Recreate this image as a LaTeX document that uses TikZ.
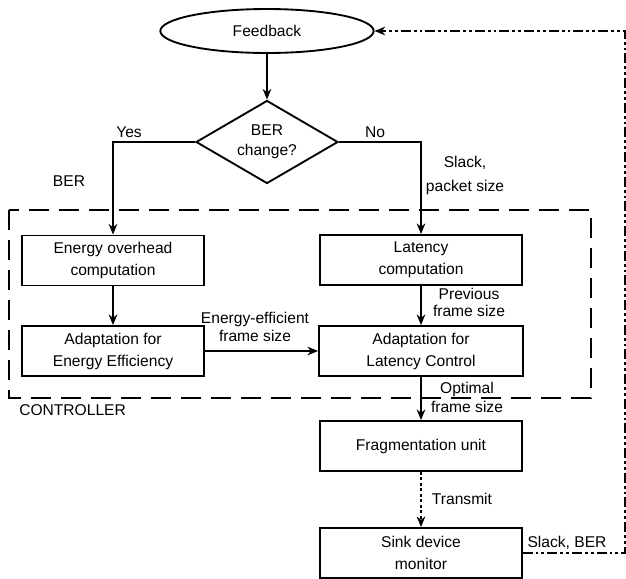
\documentclass[tikz,border=0pt]{standalone}
\usepackage{fontspec}
\setmainfont{Liberation Sans}
\usetikzlibrary{shapes.geometric,arrows.meta}

\begin{document}
\begin{tikzpicture}[x=0.75pt,y=-0.75pt,
	font=\fontsize{11.7}{16.5}\selectfont,
	box/.style={draw,line width=1.4pt,align=center,minimum height=37.5pt,inner sep=2pt},
	line/.style={line width=1.1pt},
	arr/.style={line,-{Stealth[length=8pt,width=6.5pt]}},
	lbl/.style={align=center,inner sep=0pt}]
	\useasboundingbox (0,0) rectangle (626,579);
	% controller frame
	\draw[line,dash pattern=on 15pt off 7.5pt] (9,210) rectangle (591,398);
	\node[ellipse,draw,line width=1.4pt,minimum width=160pt,minimum height=33pt] (fb) at (267,31) {Feedback};
	\node[diamond,draw,line width=1.4pt,aspect=1.7,inner sep=0pt,minimum width=106.5pt,
		minimum height=62.25pt,align=center,font=\fontsize{11.7}{15}\selectfont] (ber) at (267,142) {BER\\change?};
	\node[box,minimum width=136.5pt] (eo) at (113,260.5) {Energy overhead\\computation};
	\node[box,minimum width=151.5pt] (lat) at (421,260) {Latency\\computation};
	\node[box,minimum width=136pt] (aee) at (113,351) {Adaptation for\\Energy Efficiency};
	\node[box,minimum width=153pt] (alc) at (421,351) {Adaptation for\\Latency Control};
	\node[box,minimum width=151.5pt] (frag) at (421,446) {Fragmentation unit};
	\node[box,minimum width=151pt] (sink) at (421,553) {Sink device\\monitor};
	% labels
	\foreach \N/\X/\Y/\T in {yes/129/132/Yes,no/375/132/No,berl/69/181/BER,
		tx/462/499/Transmit,sb/567/543/{Slack, BER}}
	{\node[lbl] (\N) at (\X,\Y) {\T};}
	\node[lbl,font=\fontsize{11.7}{18}\selectfont] (slk) at (465,175) {Slack,\\packet size};
	\node[lbl,font=\fontsize{11.7}{14}\selectfont] (eff) at (255,327) {Energy-efficient\\frame size};
	\node[lbl,font=\fontsize{11.7}{12.5}\selectfont] (prev) at (469,302.5) {Previous\\frame size};
	\node[lbl,font=\fontsize{11.7}{14.5}\selectfont] (opt) at (467,397.5) {Optimal\\frame size};
	\node[lbl,anchor=west] (ctl) at (19,410) {CONTROLLER};
	% connectors
	\draw[arr] (fb) -- (ber);
	\draw[arr] (ber.west) -| (eo.north);
	\draw[arr] (ber.east) -| (lat.north);
	\draw[arr] (eo) -- (aee);
	\draw[arr] (lat) -- (alc);
	\draw[arr] (aee) -- (alc);
	\draw[arr] (alc) -- (frag);
	\draw[arr,dash pattern=on 2.2pt off 1.9pt] (frag) -- (sink);
	\coordinate (ret) at (625,553);
	\draw[arr,dash pattern=on 7.5pt off 2.2pt on 2.2pt off 2.2pt on 2.2pt off 2.2pt]
		(sink.east) -- (ret) |- (fb.east);
\end{tikzpicture}
\end{document}
